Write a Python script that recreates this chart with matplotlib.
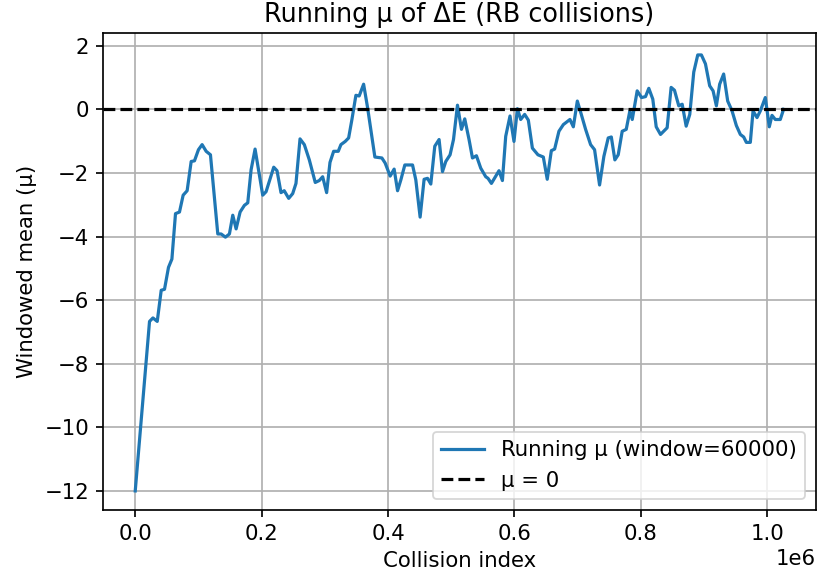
import matplotlib
matplotlib.use("Agg")
import matplotlib.pyplot as plt

collision_index = [
    0, 22600, 28000, 34800, 41100, 46300, 52600, 58000, 63700, 70000,
    75800, 82100, 88500, 93700, 100000, 105800, 112200, 119000, 130600, 135900,
    142700, 149000, 154300, 159600, 165900, 172700, 178000, 183300, 189600, 201700,
    207000, 219100, 224300, 230600, 235700, 242800, 249100, 254300, 260700, 267500,
    275400, 284800, 291100, 296500, 302800, 308100, 313900, 321200, 325400, 332200,
    337600, 342800, 349100, 354300, 361300, 367600, 379100, 390200, 395400, 403300,
    409600, 415000, 420200, 426500, 438700, 443900, 450700, 457000, 462400, 467600,
    473900, 480700, 486100, 491300, 498100, 503500, 509800, 516100, 521300, 528100,
    533500, 539800, 546600, 554500, 558100, 563500, 575500, 580900, 586100, 592900,
    599200, 604600, 609800, 616100, 621900, 628300, 637100, 645600, 651800, 658300,
    663500, 670300, 677300, 687700, 693100, 699400, 705700, 712500, 720400, 726700,
    734600, 741400, 748300, 753200, 758800, 764100, 770400, 776800, 782500, 786300,
    794100, 801000, 807300, 812500, 818800, 824200, 831000, 841500, 847800, 853100,
    859900, 865300, 871600, 877300, 883600, 889900, 895700, 902100, 908800, 914200,
    919400, 924600, 930900, 937300, 944200, 951000, 957300, 962600, 966800, 973100,
    977400, 983700, 988900, 996800, 1003100, 1007400, 1012600, 1020500, 1025700,
]
running_mu = [
    -12.0, -6.67, -6.56, -6.67, -5.69, -5.66, -4.97, -4.71, -3.28, -3.23,
    -2.70, -2.56, -1.64, -1.62, -1.27, -1.11, -1.32, -1.43, -3.92, -3.92,
    -4.02, -3.92, -3.33, -3.76, -3.23, -3.02, -2.94, -1.90, -1.25, -2.70,
    -2.59, -1.82, -1.93, -2.62, -2.56, -2.80, -2.65, -2.33, -0.93, -1.11,
    -1.59, -2.30, -2.24, -2.12, -2.62, -1.67, -1.32, -1.32, -1.11, -1.01,
    -0.90, -0.32, 0.44, 0.42, 0.79, 0.05, -1.50, -1.53, -1.69, -2.10,
    -1.88, -2.56, -2.22, -1.75, -1.75, -2.22, -3.39, -2.20, -2.17, -2.35,
    -1.16, -0.95, -1.96, -1.64, -1.43, -0.95, 0.13, -0.63, -0.30, -0.95,
    -1.53, -1.46, -1.85, -2.12, -2.17, -2.33, -1.93, -2.24, -0.85, -0.21,
    -1.01, 0.02, -0.32, -0.16, -0.34, -1.22, -1.43, -1.50, -2.20, -1.30,
    -1.25, -0.69, -0.48, -0.32, -0.55, 0.26, -0.16, -0.63, -1.11, -1.27,
    -2.38, -1.48, -0.90, -0.87, -1.59, -1.43, -0.69, -0.63, -0.05, -0.32,
    0.58, 0.37, 0.40, 0.66, 0.32, -0.55, -0.79, -0.58, 0.69, 0.60,
    0.11, 0.16, -0.53, -0.16, 1.17, 1.71, 1.71, 1.43, 0.74, 0.58,
    0.11, 0.79, 1.11, 0.26, -0.05, -0.51, -0.79, -0.87, -1.04, -1.04,
    -0.05, -0.26, -0.05, 0.37, -0.55, -0.19, -0.32, -0.32, 0.0,
]
window = 60000

s = 1.18
plt.rcParams.update({
    "font.size": 10 * s,
    "axes.titlesize": 12 * s,
    "axes.labelsize": 10 * s,
    "xtick.labelsize": 10 * s,
    "ytick.labelsize": 10 * s,
    "legend.fontsize": 10 * s,
    "axes.linewidth": 0.8 * s,
    "grid.linewidth": 0.8 * s,
    "xtick.major.width": 0.8 * s,
    "ytick.major.width": 0.8 * s,
    "xtick.major.size": 3.5 * s,
    "ytick.major.size": 3.5 * s,
})

fig = plt.figure(figsize=(817 / 130, 578 / 130), dpi=130)
ax = fig.add_axes([103 / 817, 1 - 510 / 578, (816 - 103) / 817, (510 - 33) / 578])
ax.plot(collision_index, running_mu, color="#1f77b4", lw=1.5 * s,
        label=f"Running μ (window={window})")
ax.axhline(0, color="black", ls="--", lw=1.5 * s, label="μ = 0")
ax.set_xlim(-51000, 1077000)
ax.set_ylim(-12.6, 2.4)
ax.set_yticks([-12, -10, -8, -6, -4, -2, 0, 2])
ax.set_title("Running μ of ΔE (RB collisions)")
ax.set_xlabel("Collision index")
ax.set_ylabel("Windowed mean (μ)")
ax.grid(True)
ax.legend(loc="lower right")
fig.savefig("out.png", dpi=130)
